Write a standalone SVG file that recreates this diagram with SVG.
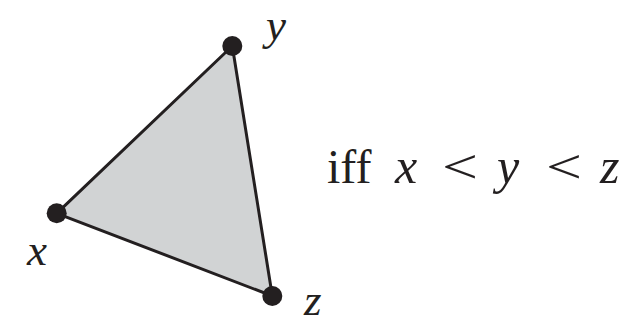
<svg xmlns="http://www.w3.org/2000/svg" width="630" height="325" viewBox="0 0 630 325">
<style>
.t{font-family:"Liberation Serif","Times New Roman",serif;font-size:48px;fill:#231f20}
.i{font-style:italic;font-size:50px}
.l{font-style:italic;font-size:45px}
.v{fill:#231f20}
</style>
<rect width="630" height="325" fill="#fff"/>
<g id="connectors">
<polygon points="56.7,213.3 232.3,46 272.3,296" fill="#d1d3d4" stroke="#231f20" stroke-width="3" stroke-linejoin="round"/>
</g>
<g id="node-x"><circle class="v" cx="56.7" cy="213.3" r="10"/><text class="t l" x="27" y="265">x</text></g>
<g id="node-y"><circle class="v" cx="232.3" cy="46" r="10"/><text class="t l" x="266" y="40">y</text></g>
<g id="node-z"><circle class="v" cx="272.3" cy="296" r="10"/><text class="t l" x="304" y="315">z</text></g>
<g id="label">
<text class="t" x="327" y="183">iff</text>
<text class="t i" x="395" y="183">x</text>
<text class="t" x="442" y="183" textLength="36" lengthAdjust="spacingAndGlyphs">&lt;</text>
<text class="t i" x="497" y="183">y</text>
<text class="t" x="546" y="183" textLength="36" lengthAdjust="spacingAndGlyphs">&lt;</text>
<text class="t i" x="600" y="183">z</text>
</g>
</svg>
